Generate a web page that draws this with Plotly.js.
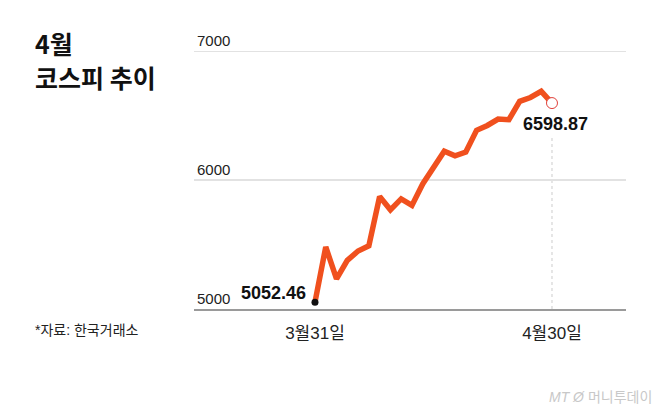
<!DOCTYPE html>
<html>
<head>
<meta charset="utf-8">
<script src="https://cdn.plot.ly/plotly-3.0.1.min.js"></script>
<style>
  html, body { margin: 0; padding: 0; background: #ffffff; }
  #chart { width: 658px; height: 410px; }
</style>
</head>
<body>
<div id="chart"></div>
<script>
// ---- Data ----
const dates = ["3월31일", "4월1일", "4월2일", "4월3일", "4월6일", "4월7일", "4월8일", "4월9일",
  "4월10일", "4월13일", "4월14일", "4월15일", "4월16일", "4월17일", "4월20일", "4월21일",
  "4월22일", "4월23일", "4월24일", "4월27일", "4월28일", "4월29일", "4월30일"];
const kospi = [5052.46, 5482, 5233, 5378, 5450, 5491, 5873, 5770, 5855, 5804, 5971, 6098,
  6225, 6190, 6219, 6387, 6425, 6475, 6470, 6612, 6642, 6690, 6598.87];
const xTickVals = ["3월31일", "4월30일"];
const yTickVals = [5000, 6000, 7000];
const yTickText = ["5000", "6000", "7000"];
const titleLines = ["4월", "코스피 추이"];
const sourceText = "*자료: 한국거래소";
const brandText = "<i>MT</i> <i>Ø</i> 머니투데이";

const lastIdx = kospi.length - 1;
const numFont = "Liberation Sans, Arial, Helvetica, sans-serif";
const korFont = "Liberation Sans, 'Noto Sans CJK KR', sans-serif";

// plot-area geometry (pixels) used to place page-level texts in paper coordinates
const W = 658, H = 410;
const M = { l: 194, r: 32, t: 20, b: 101 };
const PW = W - M.l - M.r, PH = H - M.t - M.b;
const px = (x) => (x - M.l) / PW;
const py = (y) => (H - M.b - y) / PH;

const traces = [
  {
    x: dates, y: kospi, type: "scatter", mode: "lines",
    line: { color: "#F0501E", width: 5.5 },
    hoverinfo: "skip"
  },
  {
    x: [dates[0]], y: [kospi[0]], type: "scatter", mode: "markers",
    marker: { color: "#111111", size: 7 },
    hoverinfo: "skip"
  },
  {
    x: [dates[lastIdx]], y: [kospi[lastIdx]], type: "scatter", mode: "markers",
    marker: { color: "#ffffff", size: 11, line: { color: "#E0403A", width: 1 } },
    hoverinfo: "skip"
  }
];

const layout = {
  width: W, height: H,
  margin: M,
  paper_bgcolor: "#ffffff", plot_bgcolor: "#ffffff",
  showlegend: false,
  xaxis: {
    type: "category",
    categoryorder: "array", categoryarray: dates,
    range: [-11.23, 28.87],
    tickmode: "array", tickvals: xTickVals, ticktext: xTickVals,
    ticks: "", ticklabelstandoff: 8,
    tickfont: { family: korFont, size: 17, color: "#222222" },
    showgrid: false, zeroline: false,
    showline: true, linecolor: "#9a9a9a", linewidth: 1.5,
    fixedrange: true
  },
  yaxis: {
    range: [5000, 5000 + PH / 0.1288],
    tickmode: "array", tickvals: yTickVals, ticktext: yTickText,
    ticklabelposition: "inside top",
    ticks: "",
    tickfont: { family: numFont, size: 15, color: "#222222" },
    showgrid: true, gridcolor: "#e2e2e2", gridwidth: 1.5,
    zeroline: false, showline: false,
    fixedrange: true
  },
  shapes: [
    {
      type: "line", xref: "x", yref: "y",
      x0: lastIdx, x1: lastIdx, y0: 5000, y1: kospi[lastIdx] - 255,
      line: { color: "#cccccc", width: 1, dash: "dot" },
      layer: "below"
    }
  ],
  annotations: [
    {
      x: dates[0], y: kospi[0], xref: "x", yref: "y",
      text: "<b>" + kospi[0].toFixed(2) + "</b>",
      showarrow: false, xanchor: "right", yanchor: "middle",
      xshift: -7, yshift: 9,
      font: { family: numFont, size: 18, color: "#111111" }
    },
    {
      x: dates[lastIdx], y: kospi[lastIdx], xref: "x", yref: "y",
      text: "<b>" + kospi[lastIdx].toFixed(2) + "</b>",
      showarrow: false, xanchor: "center", yanchor: "top",
      xshift: 4, yshift: -9,
      font: { family: numFont, size: 18, color: "#111111" }
    },
    {
      x: px(33), y: py(43), xref: "paper", yref: "paper",
      text: "<b>" + titleLines[0] + "</b>", showarrow: false,
      xanchor: "left", yanchor: "middle",
      font: { family: "'Noto Sans CJK KR', sans-serif", size: 25, color: "#111111" }
    },
    {
      x: px(33), y: py(77), xref: "paper", yref: "paper",
      text: "<b>" + titleLines[1] + "</b>", showarrow: false,
      xanchor: "left", yanchor: "middle",
      font: { family: "'Noto Sans CJK KR', sans-serif", size: 25, color: "#111111" }
    },
    {
      x: px(33), y: py(330), xref: "paper", yref: "paper",
      text: sourceText, showarrow: false, xanchor: "left", yanchor: "middle",
      font: { family: korFont, size: 14, color: "#222222" }
    },
    {
      x: px(654), y: py(397), xref: "paper", yref: "paper",
      text: brandText, showarrow: false, xanchor: "right", yanchor: "middle",
      font: { family: korFont, size: 14, color: "#c8c8c8" }
    }
  ]
};

Plotly.newPlot("chart", traces, layout, { displayModeBar: false, staticPlot: true });
</script>
</body>
</html>
